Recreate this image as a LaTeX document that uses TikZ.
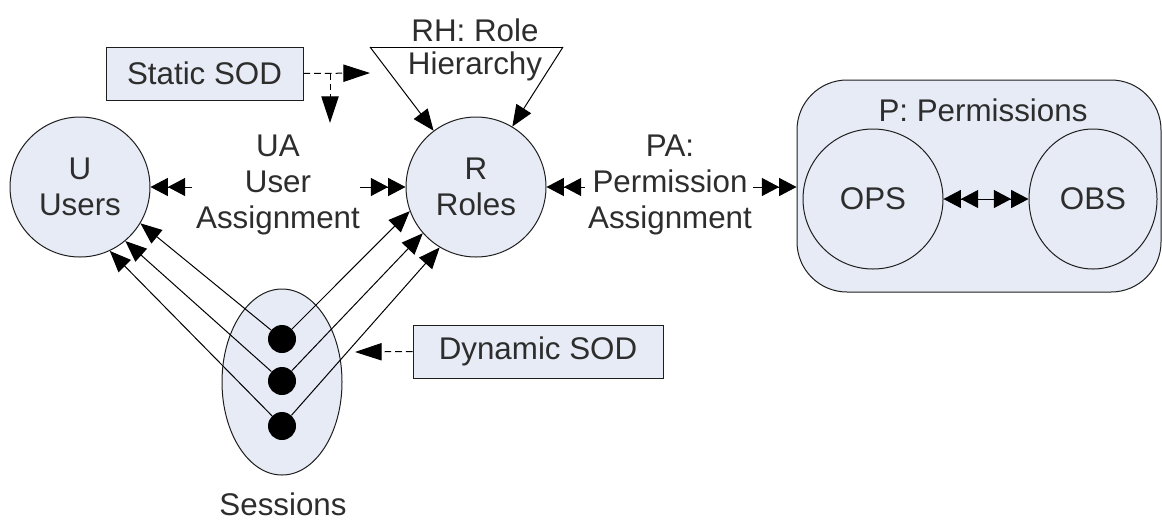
\documentclass[tikz,border=0pt]{standalone}
\usepackage{fontspec}
\setmainfont{Liberation Sans}
\usetikzlibrary{arrows.meta,shapes.geometric}
\definecolor{setfill}{RGB}{231,235,245}
\definecolor{labelgray}{RGB}{45,45,45}
\definecolor{edgegray}{RGB}{30,30,30}
\begin{document}
\begin{tikzpicture}[x=0.75pt,y=-0.75pt,
  font=\fontsize{23.5pt}{27pt}\selectfont,
  every node/.style={text=labelgray},
  setcircle/.style={circle,draw=edgegray,fill=setfill,line width=0.75pt,inner sep=0pt,minimum size=105pt,align=center},
  sodbox/.style={rectangle,draw=edgegray,fill=setfill,line width=0.75pt,inner sep=0pt},
  dot/.style={circle,fill=black,inner sep=0pt,minimum size=21pt},
  lbl/.style={align=center,inner sep=0pt},
  link/.style={line width=0.75pt,draw=black},
  sarrow/.style={link,-{Triangle[length=16pt,width=13pt]}},
  dbltip/.style={},
  dblarrow/.style={link,-{Triangle[length=13pt,width=13.5pt]Triangle[length=13pt,width=13.5pt]}},
  dsharrow/.style={link,dash pattern=on 5pt off 3pt,-{Triangle[length=20pt,width=13pt]}}
]
\useasboundingbox (0,0) rectangle (1162,522);

% permission container
\node[sodbox,rounded corners=37.5pt,minimum width=273pt,minimum height=159pt] (P) at (979,186) {};
\node[lbl] (Plbl) at (983,110) {P: Permissions};
\node[setcircle] (OPS) at (873,199) {OPS};
\node[ellipse,draw=edgegray,fill=setfill,line width=0.75pt,inner sep=0pt,minimum width=96pt,minimum height=105pt] (OBS) at (1093,199) {OBS};
\draw[link,{Triangle[length=13pt,width=13.5pt]Triangle[length=13pt,width=13.5pt]}-{Triangle[length=13pt,width=13.5pt]Triangle[length=13pt,width=13.5pt]}] (OPS) -- (OBS);

% users and roles
\node[setcircle] (U) at (80,187) {U\\Users};
\node[setcircle] (R) at (476,187) {R\\Roles};

% user assignment
\node[lbl] (UA) at (278,185) {UA\\User\\Assignment};
\coordinate (uaL) at (192,187);
\coordinate (uaR) at (360,187);
\draw[dblarrow] (uaL) -- (U);
\draw[dblarrow] (uaR) -- (R);

% permission assignment
\node[lbl] (PA) at (670,185) {PA:\\Permission\\Assignment};
\coordinate (paL) at (585,187);
\coordinate (paR) at (753,187);
\draw[dblarrow] (paL) -- (R);
\draw[dblarrow] (paR) -- (P.west |- paR);

% role hierarchy
\coordinate (rh1) at (370,47);
\coordinate (rh2) at (563,47);
\node[lbl] (RHa) at (475,30) {RH: Role};
\node[lbl] (RHb) at (475,66) {Hierarchy};
\draw[link] (rh1) -- (rh2);
\draw[sarrow] (rh1) -- (R.127.7);
\draw[sarrow] (rh2) -- (R.59.2);

% static separation of duty
\node[sodbox,minimum width=147.75pt,minimum height=39.75pt] (SSD) at (204.5,73.5) {Static SOD};
\coordinate (ssdTip) at (370,73);
\coordinate (ssdFork) at (330,73);
\coordinate (ssdDown) at (330,123);
\draw[dsharrow] (SSD.east) -- (ssdTip);
\draw[dsharrow] (ssdFork) -- (ssdDown);

% sessions
\node[ellipse,draw=edgegray,fill=setfill,line width=0.75pt,inner sep=0pt,minimum width=90pt,minimum height=139.5pt] (S) at (282,382) {};
\node[dot] (d1) at (282,339) {};
\node[dot] (d2) at (282,381) {};
\node[dot] (d3) at (282,426) {};
\node[lbl,anchor=base] (Slbl) at (283,515) {Sessions};

\draw[sarrow] (d1) -- (U.-31.5);
\draw[sarrow] (d2) -- (U.-50.7);
\draw[sarrow] (d3) -- (U.-65);
\draw[sarrow] (d1) -- (R.200.2);
\draw[sarrow] (d2) -- (R.221.6);
\draw[sarrow] (d3) -- (R.239);

% dynamic separation of duty
\node[sodbox,minimum width=187.5pt,minimum height=39.75pt] (DSD) at (538,351.5) {Dynamic SOD};
\coordinate (dsdTip) at (355,352);
\draw[dsharrow] (DSD.west) -- (dsdTip);
\end{tikzpicture}
\end{document}
